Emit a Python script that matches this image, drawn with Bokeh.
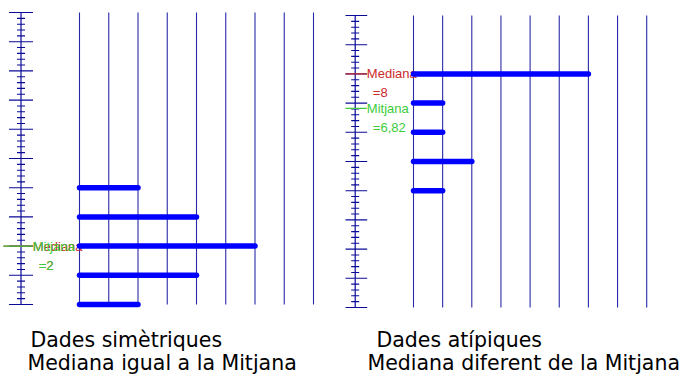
from bokeh.plotting import figure
from bokeh.layouts import row
from bokeh.models import Range1d
from bokeh.core.properties import value
from bokeh.embed import file_html
from bokeh.resources import INLINE

# ---------------- data ----------------
left_values = [0, 1, 2, 3, 4]
left_freqs = [2, 4, 6, 4, 2]
left_median = 2
left_mean = 2
left_median_text = "=2"
left_mean_text = "=2"
left_titles = ["Dades simètriques", "Mediana igual a la Mitjana"]

right_values = [4, 5, 6, 7, 8]
right_freqs = [1, 2, 1, 1, 6]
right_median = 8
right_mean = 6.82
right_median_text = "=8"
right_mean_text = "=6,82"
right_titles = ["Dades atípiques", "Mediana diferent de la Mitjana"]

axis_major_ticks = list(range(0, 11))
axis_minor_ticks = [t / 5 for t in range(0, 51) if t % 5]
x_grid = list(range(0, 9))
label_median = "Mediana"
label_mean = "Mitjana"

# ---------------- style ----------------
W, H = 345, 374
AXIS_X = -2
BLUE_BAR = "#0000ff"
BLUE_LINE = "#2a2aa8"
BLUE_AXIS = "#0a0a9a"
RED = "#cc2a2a"
GREEN = "#3ccc3c"
SMALL_FONT = value("Liberation Sans")
BIG_FONT = value("DejaVu Sans")
SMALL_SIZE = "13px"
BIG_SIZE = "20.5px"


def panel(values, freqs, median, mean, med_txt, mean_txt, titles,
          x0px, y0px, ux, uy, title_px):
    xs = -x0px / ux
    ye = y0px / uy
    p = figure(width=W, height=H,
               x_range=Range1d(xs, xs + W / ux),
               y_range=Range1d(ye - H / uy, ye),
               output_backend="svg", toolbar_location=None,
               x_axis_type=None, y_axis_type=None,
               min_border=0, outline_line_color=None,
               background_fill_color="white", border_fill_color="white")
    p.xgrid.visible = False
    p.ygrid.visible = False

    top = axis_major_ticks[-1]
    # vertical guide lines
    p.segment(x0=x_grid, y0=0, x1=x_grid, y1=top,
              line_color=BLUE_LINE, line_width=1.1)
    # axis
    p.segment(x0=AXIS_X, y0=0, x1=AXIS_X, y1=top,
              line_color=BLUE_AXIS, line_width=1.2)
    p.segment(x0=AXIS_X - 12 / ux, x1=AXIS_X + 12 / ux,
              y0=axis_major_ticks, y1=axis_major_ticks,
              line_color=BLUE_AXIS, line_width=1.1)
    p.segment(x0=AXIS_X - 4 / ux, x1=AXIS_X + 4 / ux,
              y0=axis_minor_ticks, y1=axis_minor_ticks,
              line_color=BLUE_AXIS, line_width=1.1)

    # median / mean markers
    mx0, mx1 = AXIS_X - 0.6, AXIS_X + 0.4
    p.segment(x0=mx0, x1=mx1, y0=median, y1=median,
              line_color=RED, line_width=1.1)
    p.text(x=mx1, y=median, text=[label_median], text_color=RED,
           text_font=SMALL_FONT, text_font_size=SMALL_SIZE,
           text_baseline="alphabetic", text_align="left")
    p.text(x=mx1, y=median, text=[med_txt], text_color=RED,
           text_font=SMALL_FONT, text_font_size=SMALL_SIZE,
           text_baseline="alphabetic", text_align="left",
           x_offset=6, y_offset=19)
    p.segment(x0=mx0, x1=mx1, y0=mean, y1=mean,
              line_color=GREEN, line_width=1.1)
    p.text(x=mx1, y=mean, text=[label_mean], text_color=GREEN,
           text_font=SMALL_FONT, text_font_size=SMALL_SIZE,
           text_baseline="alphabetic", text_align="left")
    p.text(x=mx1, y=mean, text=[mean_txt], text_color=GREEN,
           text_font=SMALL_FONT, text_font_size=SMALL_SIZE,
           text_baseline="alphabetic", text_align="left",
           x_offset=6, y_offset=19)

    # frequency bars
    p.segment(x0=0, x1=freqs, y0=values, y1=values,
              line_color=BLUE_BAR, line_width=5.5, line_cap="round")

    # titles (positions given in pixels, converted to data units)
    for t, (px, py) in zip(titles, title_px):
        p.text(x=xs + px / ux, y=ye - py / uy, text=[t], text_color="black",
               text_font=BIG_FONT, text_font_size=BIG_SIZE,
               text_baseline="alphabetic", text_align="left")
    return p


p1 = panel(left_values, left_freqs, left_median, left_mean,
           left_median_text, left_mean_text, left_titles,
           x0px=79, y0px=304, ux=29.25, uy=29.2,
           title_px=[(30, 339), (27, 362)])
p2 = panel(right_values, right_freqs, right_median, right_mean,
           right_median_text, right_mean_text, right_titles,
           x0px=68, y0px=307, ux=29.15, uy=29.2,
           title_px=[(31, 339), (22, 362)])

p = row(p1, p2)
open("out.html", "w").write(file_html(p, INLINE))
